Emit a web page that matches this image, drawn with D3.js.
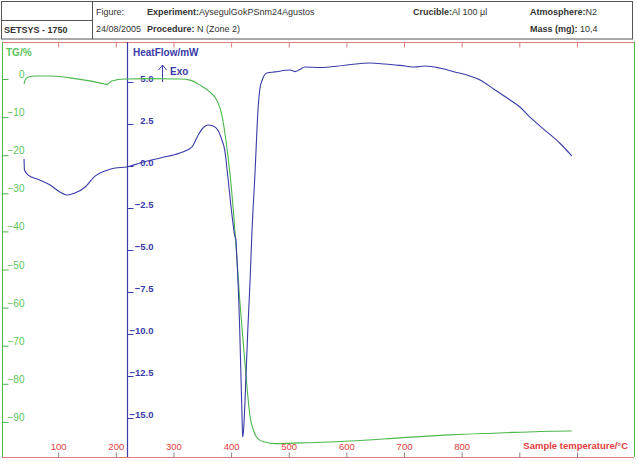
<!DOCTYPE html>
<html>
<head>
<meta charset="utf-8">
<script src="https://cdn.jsdelivr.net/npm/d3@7"></script>
<style>
  body { margin: 0; background: #fff; }
  text { font-family: "Liberation Sans", Arial, sans-serif; }
</style>
</head>
<body>
<div id="chart"></div>
<script>
(function(d3) {
    'use strict'

    // TG curve (mass %)
    var tgTemp = [41, 42.5, 48, 60, 86, 120, 155, 181, 185, 193, 216, 259, 311, 329, 346, 363, 375, 384, 391, 398, 407, 415, 424, 433, 440, 447, 459, 476, 520, 606, 693, 780, 866, 936, 991];
    var tgValue = [-1.3, -0.3, 0.5, 0.8, 0.8, 0.3, -0.5, -1.3, -1.4, -0.5, 0, 0.1, 0, -0.3, -1.6, -3.4, -5.5, -9.4, -16, -24.7, -40.4, -58, -74.5, -88.7, -92.7, -94.5, -95.3, -95.7, -95.5, -95, -94.2, -93.4, -92.9, -92.5, -92.4];

    // heat flow curve (mW)
    var hfTemp = [40.8, 41.6, 48, 68, 86, 103, 117, 129, 147, 164, 181, 199, 219, 242, 277, 311, 332, 343, 353, 360, 369, 377, 384, 389, 395, 402, 407, 408, 410, 415, 419, 420, 421.5, 424, 429, 433, 436, 441.5, 447, 450, 454, 462, 476, 502, 511, 519, 528, 554, 598, 641, 667, 702, 719, 736, 762, 788, 814, 832, 858, 884, 901, 918, 944, 970, 991];
    var hfValue = [0.42, -0.24, -0.54, -0.83, -1.13, -1.55, -1.73, -1.61, -1.25, -0.6, -0.3, -0.12, -0.06, 0.18, 0.48, 0.77, 1.13, 1.85, 2.32, 2.44, 2.38, 2.14, 1.55, 0.95, -0.83, -3.04, -4.23, -4.3, -5.42, -9.76, -14.94, -16.13, -15.8, -14.1, -9.76, -6.79, -4.1, -0.42, 3.51, 4.6, 5.12, 5.54, 5.6, 5.71, 5.62, 5.74, 5.89, 5.86, 6.0, 6.13, 6.07, 5.95, 5.89, 5.95, 5.83, 5.6, 5.36, 5.12, 4.52, 3.93, 3.51, 2.92, 2.14, 1.37, 0.6];

    var tempTicks = [100, 200, 300, 400, 500, 600, 700, 800, 900, 1000];
    var tgTicks = [0, -10, -20, -30, -40, -50, -60, -70, -80, -90];
    var hfTicks = [5, 2.5, 0, -2.5, -5, -7.5, -10, -12.5, -15];

    var width = 638;
    var height = 466;
    var top = 42, bottom = 457, left = 2, right = 634;

    var green = '#4cb84c';
    var greenText = '#5cc45c';
    var blue = '#3a3aa8';
    var red = '#e04040';
    var frameRed = '#e27a7a';

    var svg = d3.select('#chart')
        .append('svg')
        .attr('width', width)
        .attr('height', height);

    var x = d3.scaleLinear().domain([0, 1100]).range([0.5, 634.6]);
    var yTG = d3.scaleLinear().domain([0, -100]).range([79, 460]);
    var yHF = d3.scaleLinear().domain([0, -15]).range([166, 418]);

    // header box
    var head = svg.append('g');
    head.append('rect')
        .attr('x', 1.5).attr('y', 1.5)
        .attr('width', 631).attr('height', 37.5)
        .attr('fill', 'none').attr('stroke', '#555').attr('stroke-width', 1);
    head.append('line').attr('x1', 92.5).attr('x2', 92.5).attr('y1', 1.5).attr('y2', 39)
        .attr('stroke', '#555');
    head.append('line').attr('x1', 1.5).attr('x2', 92.5).attr('y1', 20.5).attr('y2', 20.5)
        .attr('stroke', '#555');

    function headText(px, py, parts) {
        var t = head.append('text')
            .attr('x', px).attr('y', py)
            .attr('font-size', 9)
            .attr('fill', '#333');
        parts.forEach(function(p) {
            t.append('tspan')
                .attr('font-weight', p[1] ? 'bold' : 'normal')
                .text(p[0]);
        });
    }
    headText(4, 33, [['SETSYS - 1750', true]]);
    headText(96, 15, [['Figure:', false]]);
    headText(147, 15, [['Experiment:', true], ['AysegulGokPSnm24Agustos', false]]);
    headText(96, 32, [['24/08/2005', false]]);
    headText(147, 32, [['Procedure:', true], ['  N (Zone 2)', false]]);
    headText(413, 15, [['Crucible:', true], ['Al 100 \u00b5l', false]]);
    headText(530, 15, [['Atmosphere:', true], ['N2', false]]);
    headText(530, 32, [['Mass (mg):', true], ['    10,4', false]]);

    // plot frame
    svg.append('line').attr('x1', left).attr('x2', right).attr('y1', top + 0.5).attr('y2', top + 0.5)
        .attr('stroke', frameRed);
    svg.append('line').attr('x1', left).attr('x2', right).attr('y1', bottom + 0.5).attr('y2', bottom + 0.5)
        .attr('stroke', frameRed);
    svg.append('line').attr('x1', left + 0.5).attr('x2', left + 0.5).attr('y1', top).attr('y2', bottom)
        .attr('stroke', green);
    svg.append('line').attr('x1', right + 0.5).attr('x2', right + 0.5).attr('y1', top).attr('y2', bottom)
        .attr('stroke', green);

    // temperature axes (top ticks only, bottom with labels)
    var xTop = svg.append('g')
        .attr('transform', 'translate(0,' + (top + 0.5) + ')')
        .call(d3.axisBottom(x).tickValues(tempTicks).tickSize(5).tickFormat(''));
    xTop.select('.domain').remove();
    xTop.selectAll('line').attr('stroke', frameRed);

    var xBot = svg.append('g')
        .attr('transform', 'translate(0,' + (bottom + 0.5) + ')')
        .call(d3.axisTop(x).tickValues(tempTicks).tickSize(5).tickFormat(d3.format('d')));
    xBot.select('.domain').remove();
    xBot.selectAll('line').attr('stroke', '#888');
    xBot.selectAll('text')
        .attr('y', -8)
        .attr('fill', red)
        .attr('font-size', 9.5)
        .attr('font-family', '"Liberation Sans", Arial, sans-serif');
    // the 900 and 1000 labels are hidden behind the axis title in the picture
    xBot.selectAll('.tick').filter(function(d) { return d > 800; }).select('text').remove();

    svg.append('text')
        .attr('x', 628).attr('y', 449)
        .attr('text-anchor', 'end')
        .attr('font-size', 9.5)
        .attr('font-weight', 'bold')
        .attr('fill', red)
        .text('Sample temperature/\u00b0C');

    // TG axis
    var tgAxis = svg.append('g')
        .attr('transform', 'translate(' + (left + 0.5) + ',0)')
        .call(d3.axisRight(yTG).tickValues(tgTicks).tickSize(6).tickFormat(d3.format('d')));
    tgAxis.select('.domain').remove();
    tgAxis.selectAll('line').attr('stroke', green);
    tgAxis.selectAll('text')
        .attr('x', 22)
        .attr('dy', '-0.15em')
        .attr('text-anchor', 'end')
        .attr('fill', greenText)
        .attr('font-size', 10)
        .attr('font-family', '"Liberation Sans", Arial, sans-serif');

    svg.append('text')
        .attr('x', 6).attr('y', 56)
        .attr('font-size', 10).attr('font-weight', 'bold')
        .attr('fill', greenText)
        .text('TG/%');

    // heat flow axis
    var hfAxis = svg.append('g')
        .attr('transform', 'translate(127.5,0)')
        .call(d3.axisRight(yHF).tickValues(hfTicks).tickSize(6).tickFormat(d3.format('.1f')));
    hfAxis.select('.domain').attr('d', 'M0,' + top + 'V' + bottom).attr('stroke', blue).attr('stroke-width', 1.2);
    hfAxis.selectAll('line').attr('stroke', blue);
    hfAxis.selectAll('text')
        .attr('x', 26)
        .attr('dy', '-0.1em')
        .attr('text-anchor', 'end')
        .attr('fill', blue)
        .attr('font-weight', 'bold')
        .attr('font-size', 9.5)
        .attr('font-family', '"Liberation Sans", Arial, sans-serif');

    svg.append('text')
        .attr('x', 133).attr('y', 56)
        .attr('font-size', 10).attr('font-weight', 'bold')
        .attr('fill', blue)
        .text('HeatFlow/mW');

    // exo arrow
    svg.append('path')
        .attr('d', 'M162.5,82V65M158.5,70L162.5,65L166.5,70')
        .attr('fill', 'none')
        .attr('stroke', blue)
        .attr('stroke-width', 1);
    svg.append('text')
        .attr('x', 170).attr('y', 75)
        .attr('font-size', 10).attr('font-weight', 'bold')
        .attr('fill', blue)
        .text('Exo');

    // curves
    var tgData = tgTemp.map(function(t, i) { return { t: t, v: tgValue[i] }; });
    var hfData = hfTemp.map(function(t, i) { return { t: t, v: hfValue[i] }; });

    var tgLine = d3.line()
        .x(function(d) { return x(d.t); })
        .y(function(d) { return yTG(d.v); })
        .curve(d3.curveMonotoneX);

    var hfLine = d3.line()
        .x(function(d) { return x(d.t); })
        .y(function(d) { return yHF(d.v); })
        .curve(d3.curveMonotoneX);

    svg.append('path')
        .datum(tgData)
        .attr('d', tgLine)
        .attr('fill', 'none')
        .attr('stroke', green)
        .attr('stroke-width', 1.1);

    svg.append('path')
        .datum(hfData)
        .attr('d', hfLine)
        .attr('fill', 'none')
        .attr('stroke', blue)
        .attr('stroke-width', 1.1);

})(window.d3);
</script>
</body>
</html>
